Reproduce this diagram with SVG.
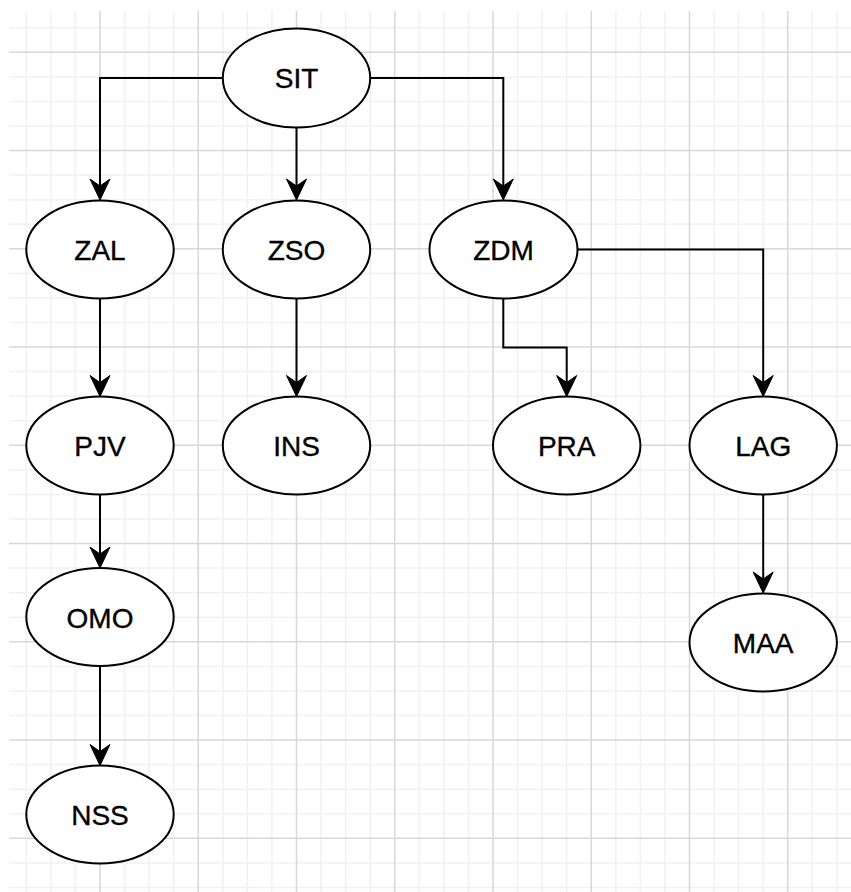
<svg xmlns="http://www.w3.org/2000/svg" width="851" height="892" viewBox="0 0 851 892">
  <style>
    .minor { stroke: #f1f1f1; stroke-width: 1.5; fill: none; }
    .major { stroke: #d8d8d8; stroke-width: 1.5; fill: none; }
    .node ellipse { fill: #ffffff; stroke: #000000; stroke-width: 2; }
    .node text { font-family: "Liberation Sans", Arial, Helvetica, sans-serif; font-size: 28px; fill: #000000; stroke: #000000; stroke-width: 0.35; text-anchor: middle; }
    .edge { fill: none; stroke: #000000; stroke-width: 2; marker-end: url(#arrow); }
  </style>
  <defs>
    <marker id="arrow" markerUnits="userSpaceOnUse" viewBox="-9 -12 25 24" markerWidth="25" markerHeight="24" refX="0" refY="0" orient="auto" overflow="visible">
      <path d="M14,0 L-7,-10 L0,0 L-7,10 Z" fill="#000000" stroke="#000000" stroke-width="1" stroke-linejoin="miter"/>
    </marker>
  </defs>

  <rect x="0" y="0" width="851" height="892" fill="#ffffff"/>

  <!-- background grid -->
  <g id="grid">
    <path class="minor" d="
      M26.3,11V892 M50.9,11V892 M75.4,11V892 M124.6,11V892 M149.1,11V892 M173.7,11V892
      M222.8,11V892 M247.4,11V892 M271.9,11V892 M321.1,11V892 M345.6,11V892 M370.2,11V892
      M419.3,11V892 M443.9,11V892 M468.4,11V892 M517.6,11V892 M542.1,11V892 M566.7,11V892
      M615.8,11V892 M640.4,11V892 M664.9,11V892 M714.1,11V892 M738.6,11V892 M763.2,11V892
      M812.3,11V892 M836.9,11V892
      M9,27.7H851 M9,76.9H851 M9,101.4H851 M9,126H851 M9,175.1H851 M9,199.7H851 M9,224.2H851
      M9,273.4H851 M9,297.9H851 M9,322.5H851 M9,371.6H851 M9,396.2H851 M9,420.7H851
      M9,469.9H851 M9,494.4H851 M9,519H851 M9,568.1H851 M9,592.7H851 M9,617.2H851
      M9,666.4H851 M9,690.9H851 M9,715.5H851 M9,764.6H851 M9,789.2H851 M9,813.7H851
      M9,862.9H851 M9,887.4H851"/>
    <path class="major" d="
      M100,11V892 M198.2,11V892 M296.5,11V892 M394.7,11V892 M493,11V892 M591.2,11V892
      M689.5,11V892 M787.7,11V892
      M9,52.3H851 M9,150.5H851 M9,248.8H851 M9,347H851 M9,445.3H851 M9,543.5H851
      M9,641.8H851 M9,740H851 M9,838.3H851"/>
  </g>

  <!-- connectors -->
  <g id="edges">
    <path class="edge" d="M222.8,78 H100 V186"/>
    <path class="edge" d="M296.5,127 V186"/>
    <path class="edge" d="M370.2,78 H503.3 V186"/>
    <path class="edge" d="M100,298 V382.5"/>
    <path class="edge" d="M296.5,298 V382.5"/>
    <path class="edge" d="M503.3,298.5 V347.5 H566.7 V382.5"/>
    <path class="edge" d="M577.5,249.5 H763.2 V382.5"/>
    <path class="edge" d="M100,494.5 V554"/>
    <path class="edge" d="M100,666 V751.5"/>
    <path class="edge" d="M763.2,494.5 V579"/>
  </g>

  <!-- nodes -->
  <g id="SIT" class="node"><ellipse cx="296.5" cy="78" rx="73.7" ry="49.5"/><text x="296.5" y="88.3">SIT</text></g>
  <g id="ZAL" class="node"><ellipse cx="100" cy="249.5" rx="73.7" ry="49"/><text x="100" y="260">ZAL</text></g>
  <g id="ZSO" class="node"><ellipse cx="296.5" cy="249.5" rx="73.7" ry="49"/><text x="296.5" y="260">ZSO</text></g>
  <g id="ZDM" class="node"><ellipse cx="503.5" cy="249.5" rx="74" ry="49"/><text x="503.5" y="260">ZDM</text></g>
  <g id="PJV" class="node"><ellipse cx="100" cy="445.5" rx="73.7" ry="49"/><text x="100" y="456">PJV</text></g>
  <g id="INS" class="node"><ellipse cx="296.5" cy="445.5" rx="73.7" ry="49"/><text x="296.5" y="456">INS</text></g>
  <g id="PRA" class="node"><ellipse cx="566.7" cy="445.5" rx="73.7" ry="49"/><text x="566.7" y="456">PRA</text></g>
  <g id="LAG" class="node"><ellipse cx="763.2" cy="445.5" rx="73.7" ry="49"/><text x="763.2" y="456">LAG</text></g>
  <g id="OMO" class="node"><ellipse cx="100" cy="617" rx="73.7" ry="49"/><text x="100" y="627.5">OMO</text></g>
  <g id="NSS" class="node"><ellipse cx="100" cy="814.5" rx="73.7" ry="49"/><text x="100" y="825">NSS</text></g>
  <g id="MAA" class="node"><ellipse cx="763.2" cy="642.5" rx="73.7" ry="49"/><text x="763.2" y="653">MAA</text></g>
</svg>
